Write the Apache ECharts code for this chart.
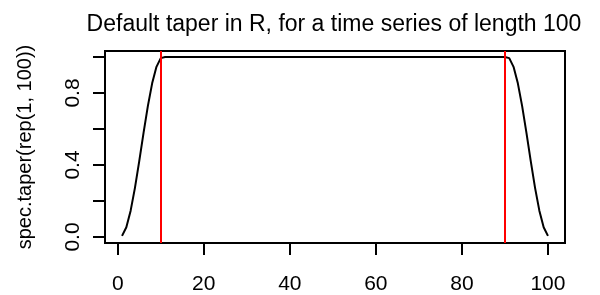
<!DOCTYPE html>
<html>
<head>
<meta charset="utf-8">
<script src="https://cdn.jsdelivr.net/npm/echarts@6/dist/echarts.min.js"></script>
<style>
  html, body { margin: 0; padding: 0; background: #fff; }
  #main { width: 600px; height: 295px; }
</style>
</head>
<body>
<div id="main"></div>
<script>
  // spec.taper(rep(1, 100)), one value per time index 1..100
  const taperValues = [
    0.0062, 0.0545, 0.1464, 0.2730, 0.4218, 0.5782, 0.7270, 0.8536, 0.9455, 0.9938,
    1, 1, 1, 1, 1, 1, 1, 1, 1, 1,
    1, 1, 1, 1, 1, 1, 1, 1, 1, 1,
    1, 1, 1, 1, 1, 1, 1, 1, 1, 1,
    1, 1, 1, 1, 1, 1, 1, 1, 1, 1,
    1, 1, 1, 1, 1, 1, 1, 1, 1, 1,
    1, 1, 1, 1, 1, 1, 1, 1, 1, 1,
    1, 1, 1, 1, 1, 1, 1, 1, 1, 1,
    1, 1, 1, 1, 1, 1, 1, 1, 1, 1,
    0.9938, 0.9455, 0.8536, 0.7270, 0.5782, 0.4218, 0.2730, 0.1464, 0.0545, 0.0062
  ]
  const cutLines = [10, 90]
  const xTicks = [0, 20, 40, 60, 80, 100]
  const yTicks = [0, 0.2, 0.4, 0.6, 0.8, 1.0]
  const yLabels = [0, 0.4, 0.8]

  const fontFamily = 'Liberation Sans, Arial, sans-serif'

  let points = taperValues.map((v, i) => [i + 1, v])

  let myChart = echarts.init(document.getElementById('main'), null, { renderer: 'canvas' })

  let option = {
    animation: false,
    title: {
      text: 'Default taper in R, for a time series of length 100',
      left: 329,
      top: 8,
      textAlign: 'center',
      textStyle: {
        color: '#000',
        fontFamily: fontFamily,
        fontWeight: 'normal',
        fontSize: 23
      }
    },
    grid: {
      left: 105,
      right: 35,
      top: 51,
      bottom: 50,
      show: true,
      borderColor: '#000',
      borderWidth: 2,
      backgroundColor: 'transparent'
    },
    xAxis: {
      type: 'value',
      min: -2.96,
      max: 103.96,
      axisLine: { show: false, onZero: false },
      splitLine: { show: false },
      axisTick: {
        show: true,
        length: 12,
        customValues: xTicks,
        lineStyle: { color: '#000', width: 2 }
      },
      axisLabel: {
        customValues: xTicks,
        margin: 31,
        color: '#000',
        fontFamily: fontFamily,
        fontSize: 21
      }
    },
    yAxis: {
      type: 'value',
      min: -0.0333,
      max: 1.0334,
      name: 'spec.taper(rep(1, 100))',
      nameLocation: 'middle',
      nameGap: 70,
      nameRotate: 90,
      nameTextStyle: {
        color: '#000',
        fontFamily: fontFamily,
        fontSize: 20
      },
      axisLine: { show: false, onZero: false },
      splitLine: { show: false },
      axisTick: {
        show: true,
        length: 12,
        customValues: yTicks,
        lineStyle: { color: '#000', width: 2 }
      },
      axisLabel: {
        customValues: yLabels,
        rotate: 90,
        margin: 21,
        color: '#000',
        fontFamily: fontFamily,
        fontSize: 21,
        formatter: v => v.toFixed(1)
      }
    },
    series: [
      {
        type: 'line',
        data: points,
        showSymbol: false,
        smooth: false,
        lineStyle: { color: '#000', width: 2 },
        markLine: {
          silent: true,
          symbol: ['none', 'none'],
          label: { show: false },
          lineStyle: { color: '#ff0000', type: 'solid', width: 2 },
          data: cutLines.map(x => ({ xAxis: x }))
        }
      }
    ]
  }

  myChart.setOption(option)
</script>
</body>
</html>
